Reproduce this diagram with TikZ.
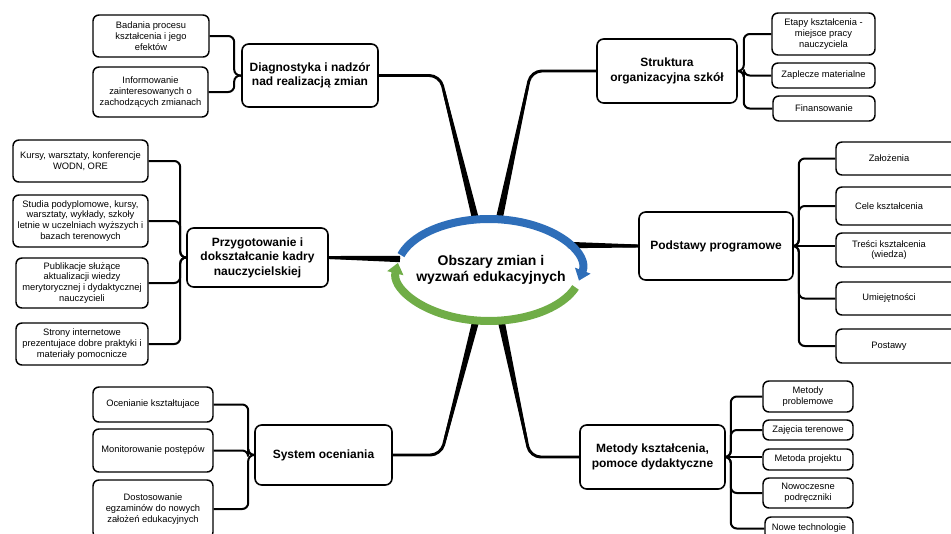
\documentclass[tikz,border=0pt]{standalone}
\usepackage{fontspec}
\setmainfont{Liberation Sans}
\usetikzlibrary{calc,arrows.meta}
\definecolor{ringblue}{RGB}{46,110,185}
\definecolor{ringgreen}{RGB}{112,173,71}
% box from (x1,y1) to (x2,y2) in pixel units
\newcommand\bx[7]{\node[#6, minimum width={(#4-#2)*0.75pt}, minimum height={(#5-#3)*0.75pt}] (#1) at ({(#2+#4)/2},{(#3+#5)/2}) {#7};}
% tapered main branch: #1 box anchor, #2 bend, #3 end on ring
\newcommand\branch[3]{%
  \coordinate (tapstart) at ($(#2)!12pt!(#3)$);
  \fill ($(tapstart)!1pt!90:(#3)$) -- ($(#3)!2.6pt!-90:(tapstart)$) -- ($(#3)!2.6pt!90:(tapstart)$) -- ($(tapstart)!1pt!-90:(#3)$) -- cycle;
  \draw[trunkline] (#1) -- (#2) -- (#3);}
\newcommand\straightbranch[2]{%
  \fill ($(#1)!1.1pt!90:(#2)$) -- ($(#2)!2.4pt!-90:(#1)$) -- ($(#2)!2.4pt!90:(#1)$) -- ($(#1)!1.1pt!-90:(#2)$) -- cycle;
  \draw[line width=2.2pt] (#1) -- (#2);}
\begin{document}
\begin{tikzpicture}[x=0.75pt,y=-0.75pt,
  sbox/.style={draw, line width=1.1pt, rounded corners=4.5pt, align=center, inner sep=1pt,
    fill=white, font=\fontsize{7}{8.2}\selectfont},
  mbox/.style={draw, line width=1.2pt, rounded corners=5pt, align=center, inner sep=1pt,
    fill=white, font=\fontsize{9}{10.8}\selectfont\bfseries},
  sub/.style={line width=1.5pt, rounded corners=4.5pt},
  trunkline/.style={line width=2.2pt, rounded corners=8pt},
  ring/.style={line width=6pt}]
\useasboundingbox (0,0) rectangle (951,533);
\clip (0,0) rectangle (951,533);

% ---------- top left
\bx{bad}{93}{15}{209}{57}{sbox}{Badania procesu\\kształcenia i jego\\efektów}
\bx{inf}{93}{67}{208}{117}{sbox}{Informowanie\\zainteresowanych o\\zachodzących zmianach}
\bx{diag}{242}{44}{378}{107}{mbox}{Diagnostyka i nadzór\\nad realizacją zmian}
% ---------- left middle
\bx{kur}{13}{140}{148}{182}{sbox}{Kursy, warsztaty, konferencje\\WODN, ORE}
\bx{stu}{13}{195}{148}{247}{sbox}{Studia podyplomowe, kursy,\\warsztaty, wykłady, szkoły\\letnie w uczelniach wyższych i\\bazach terenowych}
\bx{pub}{16}{258}{148}{308}{sbox}{Publikacje służące\\aktualizacji wiedzy\\merytorycznej i dydaktycznej\\nauczycieli}
\bx{str}{16}{323}{148}{365}{sbox}{Strony internetowe\\prezentujace dobre praktyki i\\materiały pomocnicze}
\bx{przy}{187}{228}{328}{287}{mbox}{Przygotowanie i\\dokształcanie kadry\\nauczycielskiej}
% ---------- bottom left
\bx{oce}{93}{387}{213}{422}{sbox}{Ocenianie kształtujace}
\bx{mon}{93}{429}{213}{472}{sbox}{Monitorowanie postępów}
\bx{dos}{93}{480}{213}{538}{sbox}{Dostosowanie\\egzaminów do nowych\\założeń edukacyjnych}
\bx{sys}{255}{425}{392}{485}{mbox}{System oceniania}
% ---------- top right
\bx{strk}{597}{39}{737}{103}{mbox}{Struktura\\organizacyjna szkół}
\bx{eta}{772}{13}{875}{55}{sbox}{Etapy kształcenia -\\miejsce pracy\\nauczyciela}
\bx{zap}{772}{63}{875}{88}{sbox}{Zaplecze materialne}
\bx{fin}{773}{96}{875}{121}{sbox}{Finansowanie}
% ---------- right middle
\bx{podst}{639}{212}{793}{280}{mbox}{Podstawy programowe}
\bx{zal}{836}{142}{964}{175}{sbox}{Założenia\hspace*{16.5pt}}
\bx{cel}{836}{187}{964}{225}{sbox}{Cele kształcenia\hspace*{16.5pt}}
\bx{tre}{836}{233}{964}{267}{sbox}{Treści kształcenia\hspace*{16.5pt}\\(wiedza)\hspace*{16.5pt}}
\bx{umi}{836}{282}{964}{315}{sbox}{Umiejętności\hspace*{16.5pt}}
\bx{pos}{836}{329}{964}{363}{sbox}{Postawy\hspace*{16.5pt}}
% ---------- bottom right
\bx{met}{580}{425}{725}{489}{mbox}{Metody kształcenia,\\pomoce dydaktyczne}
\bx{mp}{763}{381}{853}{412}{sbox}{Metody\\problemowe}
\bx{zaj}{763}{420}{853}{440}{sbox}{Zajęcia terenowe}
\bx{mpr}{763}{449}{853}{470}{sbox}{Metoda projektu}
\bx{now}{763}{478}{853}{508}{sbox}{Nowoczesne\\podręczniki}
\bx{nt}{765}{517}{853}{540}{sbox}{Nowe technologie}

% ---------- trunk points of the small connectors
\coordinate (tD) at ($(diag.west)+(-7,0)$);
\coordinate (tP) at ($(przy.west)+(-6,0)$);
\coordinate (tS) at ($(sys.west)+(-6,0)$);
\coordinate (tK) at ($(strk.east)+(6,0)$);
\coordinate (tO) at ($(podst.east)+(5,0)$);
\coordinate (tM) at ($(met.east)+(5,0)$);

\draw[sub] (bad.east) -| (tD) -- (diag.west);
\draw[sub] (inf.east) -| (tD) -- (diag.west);
\draw[sub] (kur.east) -| (tP) -- (przy.west);
\draw[sub] (stu.east) -| (tP) -- (przy.west);
\draw[sub] (pub.east) -| (tP) -- (przy.west);
\draw[sub] (str.east) -| (tP) -- (przy.west);
\draw[sub] (oce.east) -| (tS) -- (sys.west);
\draw[sub] (mon.east) -| (tS) -- (sys.west);
\draw[sub] (dos.east) -| (tS) -- (sys.west);
\draw[sub] (eta.west) -| (tK) -- (strk.east);
\draw[sub] (zap.west) -| (tK) -- (strk.east);
\draw[sub] (fin.west) -| (tK) -- (strk.east);
\draw[sub] (zal.west) -| (tO) -- (podst.east);
\draw[sub] (cel.west) -| (tO) -- (podst.east);
\draw[sub] (podst.east) -- (podst.east -| tre.west);
\draw[sub] (umi.west) -| (tO) -- (podst.east);
\draw[sub] (pos.west) -| (tO) -- (podst.east);
\draw[sub] (mp.west) -| (tM) -- (met.east);
\draw[sub] (zaj.west) -| (tM) -- (met.east);
\draw[sub] (met.east) -- (met.east -| mpr.west);
\draw[sub] (now.west) -| (tM) -- (met.east);
\draw[sub] (nt.west) -| (tM) -- (met.east);

% ---------- main branches to the central ring
\coordinate (k1) at (440,75.5);  \coordinate (e1) at (476,221);
\coordinate (k2) at (531,71);    \coordinate (e2) at (499,220);
\coordinate (k5) at (441,455);   \coordinate (e5) at (476,320);
\coordinate (k6) at (530,457);   \coordinate (e6) at (501,320);
\coordinate (e3) at (400,259);
\coordinate (e4) at (568,245);
\branch{diag.east}{k1}{e1}
\branch{strk.west}{k2}{e2}
\branch{sys.east}{k5}{e5}
\branch{met.west}{k6}{e6}
\straightbranch{przy.east}{e3}
\straightbranch{podst.west}{e4}

% ---------- central ring
\draw[ring, ringblue, -{Triangle[width=12pt,length=8pt]}]
  (401,255.1) arc[start angle=163, end angle=-12, x radius=69pt, y radius=38.25pt];
\draw[ring, ringgreen, -{Triangle[width=12pt,length=8pt]}]
  (575.5,287.4) arc[start angle=-20, end angle=-188, x radius=69pt, y radius=38.25pt];
\node[align=center, font=\fontsize{10.5}{12}\selectfont\bfseries] (ctr) at (491,270)
  {Obszary zmian i\\wyzwań edukacyjnych};
\end{tikzpicture}
\end{document}
